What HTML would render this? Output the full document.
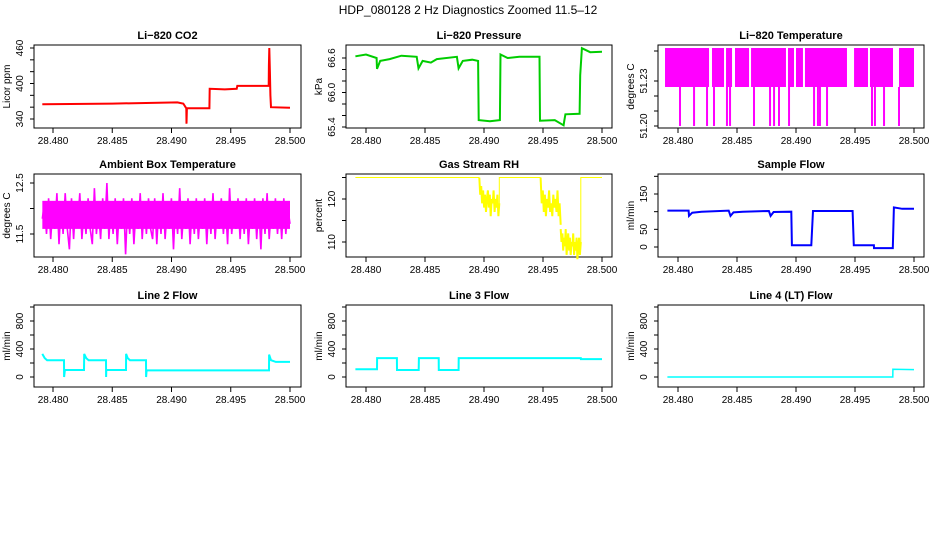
<!DOCTYPE html>
<html><head><meta charset="utf-8"><style>
body{margin:0;background:#fff}
svg{display:block;font-family:"Liberation Sans",Arial,sans-serif}
.t{font-size:11px;font-weight:bold;text-anchor:middle}
.tk{font-size:10px;text-anchor:middle}
</style></head><body>
<svg id="chart" width="936" height="540" viewBox="0 0 936 540">
<rect width="936" height="540" fill="#fff"/>
<text x="468" y="14" style="font-size:12px" text-anchor="middle">HDP_080128  2 Hz Diagnostics Zoomed 11.5–12</text>
</svg>
<script>
// ---- data ----
const xTicks = [28.480, 28.485, 28.490, 28.495, 28.500];
const xTickLabels = ["28.480","28.485","28.490","28.495","28.500"];

const co2Times = [28.4791,28.4850,28.4905,28.4910,28.49125,28.49127,28.4913,28.4932,28.49322,28.4945,28.4955,28.49555,28.4982,28.49822,28.49825,28.4983,28.49835,28.4984,28.5];
const co2Values = [365,366,368,366,358,332,358,358,391,390,391,396,396,430,460,420,380,360,359];

const presTimes = [28.4791,28.4800,28.48090,28.48093,28.4812,28.4820,28.4830,28.4843,28.48445,28.4848,28.4855,28.4860,28.4877,28.48785,28.4882,28.4890,28.4895,28.48955,28.4905,28.49135,28.4914,28.4920,28.4930,28.4947,28.49475,28.4960,28.49675,28.4968,28.4969,28.4981,28.49815,28.4983,28.4990,28.5];
const presValues = [66.63,66.66,66.60,66.41,66.55,66.58,66.64,66.62,66.42,66.55,66.52,66.58,66.62,66.42,66.55,66.57,66.55,65.52,65.50,65.52,66.66,66.60,66.62,66.62,65.51,65.52,65.43,65.50,65.62,65.63,66.30,66.77,66.70,66.71];

const tempBlocks = [[28.4789,28.48263],[28.48288,28.4839],[28.48407,28.48458],[28.48483,28.48602],[28.48619,28.48915],[28.48932,28.48983],[28.49,28.49059],[28.49076,28.49432],[28.49492,28.4961],[28.49627,28.49822],[28.49873,28.5]];
const tempHigh = 51.252, tempLow = 51.226, tempMin = 51.20;
const tempSpikes = [28.48017,28.48136,28.48246,28.48305,28.48415,28.48441,28.48644,28.4878,28.48814,28.48856,28.48941,28.49153,28.49186,28.49203,28.49263,28.49644,28.49669,28.49746,28.49873];
const tempTicks = [51.20,51.21,51.22,51.23,51.25];
const tempTickLabels = ["51.20","","","51.23",""];

const ambValues = [11.8,12.1,11.5,12.2,11.4,12.0,11.6,12.3,11.3,12.1,11.5,12.3,11.6,11.2,12.2,11.4,12.1,11.7,12.3,11.4,12.0,11.5,12.2,11.6,11.3,12.4,11.5,12.0,11.4,12.2,11.6,12.5,11.4,12.1,11.5,12.2,11.3,12.0,11.6,12.2,11.1,12.1,11.5,12.2,11.3,12.0,11.6,12.3,11.4,12.1,11.5,12.2,11.6,11.4,12.2,11.3,12.1,11.5,12.3,11.4,12.0,11.6,12.2,11.2,12.1,11.5,12.4,11.4,12.0,11.6,12.2,11.3,12.1,11.5,12.2,11.4,12.0,11.6,12.2,11.3,12.1,11.5,12.3,11.4,12.0,11.6,12.2,11.5,12.1,11.3,12.4,11.5,12.0,11.6,12.2,11.4,12.1,11.5,12.2,11.3,12.0,11.6,12.2,11.4,12.1,11.2,12.2,11.5,12.3,11.4,12.0,11.6,12.2,11.5,12.1,11.4,12.2,11.5,12.0,11.7];

const rhTimes = [28.4791,28.4896,28.4913,28.4948,28.4965,28.4982,28.5];
const rhNoise1 = [125,121,123,119,122,118,121,117,120,122,118,121,116,120,119,122,117,120,118,121,116,119];
const rhNoise2 = [125,119,122,117,121,116,120,118,122,117,119,116,121,118,120,117,122,116,119,114];
const rhNoise3 = [113,110,112,108,111,109,113,107,110,112,108,111,107,110,109,112,107,110,108,111,106,109,111,107,110];

const flowTimes = [28.4791,28.4809,28.48093,28.4812,28.4820,28.4843,28.48445,28.4847,28.4855,28.4877,28.48785,28.4881,28.4896,28.48965,28.4913,28.49144,28.4948,28.4949,28.4966,28.49661,28.4982,28.4983,28.4990,28.5];
const flowValues = [103,103,88,97,100,103,88,98,100,102,88,99,100,5,5,102,102,5,5,-3,-3,112,108,108];

const l2Times = [28.4791,28.4793,28.4795,28.48093,28.48094,28.481,28.48262,28.48263,28.4828,28.4830,28.48447,28.48448,28.4845,28.48616,28.48617,28.4863,28.4865,28.48785,28.48786,28.4879,28.49823,28.49824,28.4984,28.4988,28.5];
const l2Values = [330,270,240,240,0,100,100,330,270,240,240,0,100,100,330,270,240,240,0,95,95,320,240,215,215];

const l3Times = [28.4791,28.48093,28.48094,28.48262,28.48263,28.48447,28.48448,28.48616,28.48617,28.48785,28.48786,28.4982,28.49821,28.5];
const l3Values = [110,110,270,270,100,100,270,270,100,100,270,270,255,255];

const l4Times = [28.4791,28.4982,28.49821,28.5];
const l4Values = [0,0,110,105];

// ---- layout ----
const NS = "http://www.w3.org/2000/svg";
const svg = document.getElementById("chart");
const cols = [{l:34,r:301,t0:53,t1:290},{l:346,r:612,t0:366,t1:602},{l:658,r:924,t0:678,t1:914}];
const rows = [{t:45,b:128},{t:174,b:257},{t:305,b:387}];
function mk(tag, attrs, parent){const e=document.createElementNS(NS,tag);for(const k in attrs)e.setAttribute(k,attrs[k]);(parent||svg).appendChild(e);return e;}

function panel(ci, ri, name, title, ylab, v0, p0, v1, p1, ticks, tickLabels){
  const c=cols[ci], r=rows[ri];
  const g=mk("g",{});
  
  
  const sx=x=>c.t0+(x-28.48)/0.02*(c.t1-c.t0);
  const sy=v=>p0+(v-v0)/(v1-v0)*(p1-p0);
  const box=mk("rect",{x:c.l,y:r.t,width:c.r-c.l,height:r.b-r.t,fill:"none",stroke:"#000","stroke-width":1},g);
  
  
  const tt=mk("text",{x:(c.l+c.r)/2,y:r.t-6,class:"t"},g); tt.textContent=title;
  
  
  const xa=mk("g",{},g);
  
  
  xTicks.forEach((v,i)=>{const x=sx(v);mk("line",{x1:x,x2:x,y1:r.b,y2:r.b+5,stroke:"#000"},xa);
    const t=mk("text",{x:x,y:r.b+16,class:"tk"},xa);t.textContent=xTickLabels[i];});
  const ya=mk("g",{},g);
  
  
  ticks.forEach((v,i)=>{const y=sy(v);mk("line",{x1:c.l-4,x2:c.l,y1:y,y2:y,stroke:"#000"},ya);
    if(tickLabels[i]){const t=mk("text",{x:0,y:0,class:"tk",transform:`translate(${c.l-11},${y}) rotate(-90)`},ya);t.textContent=tickLabels[i];}});
  const yl=mk("text",{x:0,y:0,class:"tk",transform:`translate(${c.l-24},${(r.t+r.b)/2}) rotate(-90)`},g);yl.textContent=ylab;
  
  
  return {g,sx,sy};
}
function line(P, times, vals, color, w, name){
  const pts=times.map((t,i)=>P.sx(t).toFixed(1)+","+P.sy(vals[i]).toFixed(1)).join(" ");
  const e=mk("polyline",{points:pts,fill:"none",stroke:color,"stroke-width":w},P.g);
  
  
}
function seriesEven(P, t0, t1, vals, color, w, name){
  const n=vals.length, times=vals.map((v,i)=>t0+(t1-t0)*i/(n-1));
  line(P,times,vals,color,w,name);
}

// CO2
let P=panel(0,0,"co2","Li−820 CO2","Licor ppm",340,119,460,48,[340,360,380,400,420,440,460],["340","","","400","","","460"]);
line(P,co2Times,co2Values,"#ff0000",2,"co2-line");

// Pressure
P=panel(1,0,"pressure","Li−820 Pressure","kPa",65.4,127,66.6,58,[65.4,65.6,65.8,66.0,66.2,66.4,66.6],["65.4","","","66.0","","","66.6"]);
line(P,presTimes,presValues,"#00cc00",2,"pressure-line");

// Li-820 temperature
P=panel(2,0,"licor-temp","Li−820 Temperature","degrees C",51.20,126,51.21,111,tempTicks,tempTickLabels);
tempBlocks.forEach(b=>{const r=mk("rect",{x:P.sx(b[0]),y:P.sy(tempHigh),width:P.sx(b[1])-P.sx(b[0]),height:P.sy(tempLow)-P.sy(tempHigh),fill:"#ff00ff"},P.g);
  
  });
tempSpikes.forEach(s=>{const l=mk("line",{x1:P.sx(s),x2:P.sx(s),y1:P.sy(tempLow),y2:P.sy(tempMin),stroke:"#ff00ff","stroke-width":2},P.g);
  
  });

// Ambient
P=panel(0,1,"ambient","Ambient Box Temperature","degrees C",11.5,234,12.5,183,[11.5,12.0,12.5],["11.5","","12.5"]);
const rect=mk("rect",{x:P.sx(28.4791),y:P.sy(12.15),width:P.sx(28.5)-P.sx(28.4791),height:P.sy(11.6)-P.sy(12.15),fill:"#ff00ff"},P.g);


seriesEven(P,28.4791,28.5,ambValues,"#ff00ff",1.6,"ambient-line");

// RH
P=panel(1,1,"rh","Gas Stream RH","percent",110,242,120,199,[110,115,120,125],["110","","120",""]);
line(P,[rhTimes[0],rhTimes[1]],[125,125],"#ffff00",1,"rh-line-1");
seriesEven(P,rhTimes[1],rhTimes[2],rhNoise1,"#ffff00",2,"rh-noise-1");
line(P,[rhTimes[2],rhTimes[2],rhTimes[3]],[118,125,125],"#ffff00",1,"rh-line-2");
seriesEven(P,rhTimes[3],rhTimes[4],rhNoise2,"#ffff00",2,"rh-noise-2");
seriesEven(P,rhTimes[4],rhTimes[5],rhNoise3,"#ffff00",2,"rh-noise-3");
line(P,[rhTimes[5],rhTimes[5],rhTimes[6]],[109,125,125],"#ffff00",1,"rh-line-3");

// Sample flow
P=panel(2,1,"sample-flow","Sample Flow","ml/min",0,247,150,194,[0,50,100,150,200],["0","50","","150",""]);
line(P,flowTimes,flowValues,"#0000ff",2,"sample-flow-line");

// Line flows
const fT=[0,200,400,600,800,1000], fL=["0","","400","","800",""];
P=panel(0,2,"line2","Line 2 Flow","ml/min",0,377,400,349,fT,fL);
line(P,l2Times,l2Values,"#00ffff",2,"line2-flow-line");
P=panel(1,2,"line3","Line 3 Flow","ml/min",0,377,400,349,fT,fL);
line(P,l3Times,l3Values,"#00ffff",2,"line3-flow-line");
P=panel(2,2,"line4","Line 4 (LT) Flow","ml/min",0,377,400,349,fT,fL);
line(P,l4Times,l4Values,"#00ffff",1.5,"line4-flow-line");
</script>
</body></html>
